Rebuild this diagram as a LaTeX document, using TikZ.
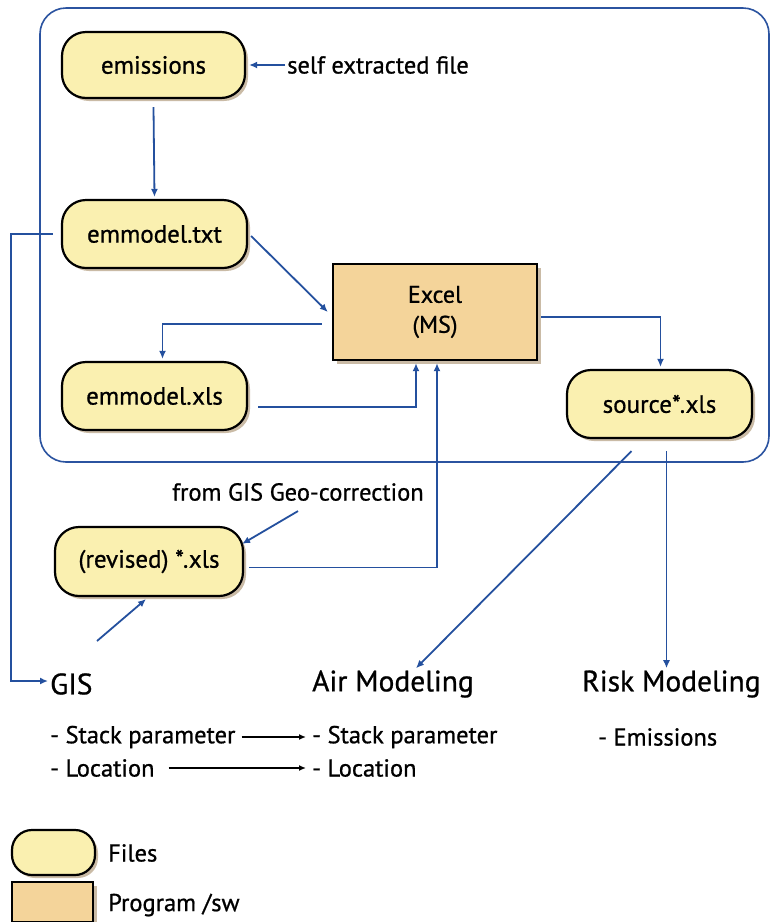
\documentclass[tikz,border=0pt]{standalone}
\usepackage{fontspec}
\setmainfont{PT Sans}[UprightFeatures={FakeBold=0.8}]
\usetikzlibrary{shadows,calc,arrows.meta}
\definecolor{filefill}{HTML}{FAF0B0}
\definecolor{progfill}{HTML}{F4D49A}
\definecolor{conn}{HTML}{24509E}
\definecolor{frame}{HTML}{2B53A0}
\definecolor{shade}{HTML}{8A6A3A}
\begin{document}
\begin{tikzpicture}[x=1pt,y=-1pt,
  filebox/.style={draw=black,line width=2.2pt,fill=filefill,rounded corners=24pt,
    font=\fontsize{25}{28}\selectfont,inner sep=0pt,
    drop shadow={shadow xshift=3pt,shadow yshift=-3pt,fill=shade,opacity=0.45}},
  progbox/.style={draw=black,line width=2.4pt,fill=progfill,
    font=\fontsize{24}{30}\selectfont,align=center,inner sep=0pt,
    drop shadow={shadow xshift=4pt,shadow yshift=-4pt,fill=shade,opacity=0.45}},
  lbl/.style={font=\fontsize{24.5}{28}\selectfont,inner sep=2pt},
  big/.style={font=\fontsize{29.5}{32}\selectfont,inner sep=2pt},
  conn/.style={draw=conn,line width=1.8pt,-{Latex[length=8pt,width=7pt]}},
  blk/.style={draw=black,line width=1.8pt,-{Latex[length=7pt,width=6pt]}}
]
\useasboundingbox[fill=white] (0,0) rectangle (771,922);
% container
\draw[frame,line width=1.6pt,rounded corners=26pt] (40,8) rectangle (769,462);

% nodes
\node[filebox,minimum width=183pt,minimum height=66pt] (emis) at (153.5,65) {emissions};
\node[filebox,minimum width=185pt,minimum height=68pt] (emtxt) at (154.5,234) {emmodel.txt};
\node[filebox,minimum width=185pt,minimum height=68pt] (emxls) at (154.5,396) {emmodel.xls};
\node[progbox,minimum width=204pt,minimum height=96pt] (excel) at (435,312) {Excel\\(MS)};
\node[filebox,minimum width=185pt,minimum height=68pt] (src) at (659.5,404) {source*.xls};
\node[filebox,minimum width=188pt,minimum height=69pt] (rev) at (149,561.5) {(revised) *.xls};

\node[lbl,anchor=west] (self) at (285,65) {self extracted file};
\node[lbl] (geo) at (298,492) {from GIS Geo-correction};

\node[big,anchor=west] (gis) at (48,684) {GIS};
\node[big,anchor=west] (air) at (310,684) {Air Modeling};
\node[big,anchor=west] (risk) at (580,684) {Risk Modeling};

\node[lbl,anchor=west] (st1) at (48,737) {- Stack parameter};
\node[lbl,anchor=west] (st2) at (310,737) {- Stack parameter};
\node[lbl,anchor=west] (lo1) at (48,768) {- Location};
\node[lbl,anchor=west] (lo2) at (310,768) {- Location};
\node[lbl,anchor=west] (emi2) at (596,737) {- Emissions};

% legend
\node[filebox,minimum width=83pt,minimum height=45pt,rounded corners=20pt] (lf) at (53.5,852.5) {};
\node[progbox,minimum width=81pt,minimum height=40pt] (lp) at (52.5,902) {};
\node[lbl,anchor=west] (lft) at (106,853) {Files};
\node[lbl,anchor=west] (lpt) at (106,905) {Program /sw};

% connectors
\draw[conn] (self.west) -- ([xshift=3pt]emis.east);
\draw[conn] ([yshift=-8pt]emis.south) -- ([yshift=2pt]emtxt.north);
\draw[conn] ([shift={(3pt,-2pt)}]emtxt.east) -- ([shift={(-4pt,0pt)}]excel.west);
\coordinate (exl) at ($(excel.west)+(-10,12)$);
\draw[conn] (exl) -| ([xshift=8pt,yshift=2pt]emxls.north);
\coordinate (xlsr) at ($(emxls.east)+(10,11)$);
\draw[conn] (xlsr) -| ([xshift=-19pt,yshift=-2pt]excel.south);
\coordinate (revr) at ($(rev.east)+(5,6)$);
\draw[conn] (revr) -| ([xshift=2pt,yshift=-2pt]excel.south);
\coordinate (exr) at ($(excel.east)+(3,5)$);
\draw[conn] (exr) -| ([xshift=1pt,yshift=2pt]src.north);
\coordinate (s1) at ($(src.south)+(-28,12)$);
\draw[conn] (s1) -- ($(air.north west)+(106,0)$);
\coordinate (s2) at ($(src.south)+(7,12)$);
\draw[conn] (s2) -- (s2 |- risk.north);
\coordinate (gl) at ($(emtxt.west)+(-8,0)$);
\draw[conn] (gl) -- ++(-42,0) |- ($(gis.west)+(0,-3)$);
\coordinate (g1) at ($(gis.west)+(49,-43)$);
\draw[conn] (g1) -- ([shift={(-3pt,-2pt)}]rev.south);
\draw[conn] ($(geo.south)+(0,8)$) -- ($(rev.north east)+(-2,18)$);
\draw[blk] ($(st1.east)+(4,0)$) -- ($(st2.west)+(-4,0)$);
\draw[blk] ($(lo1.east)+(12,0)$) -- ($(lo2.west)+(-4,0)$);
\end{tikzpicture}
\end{document}
